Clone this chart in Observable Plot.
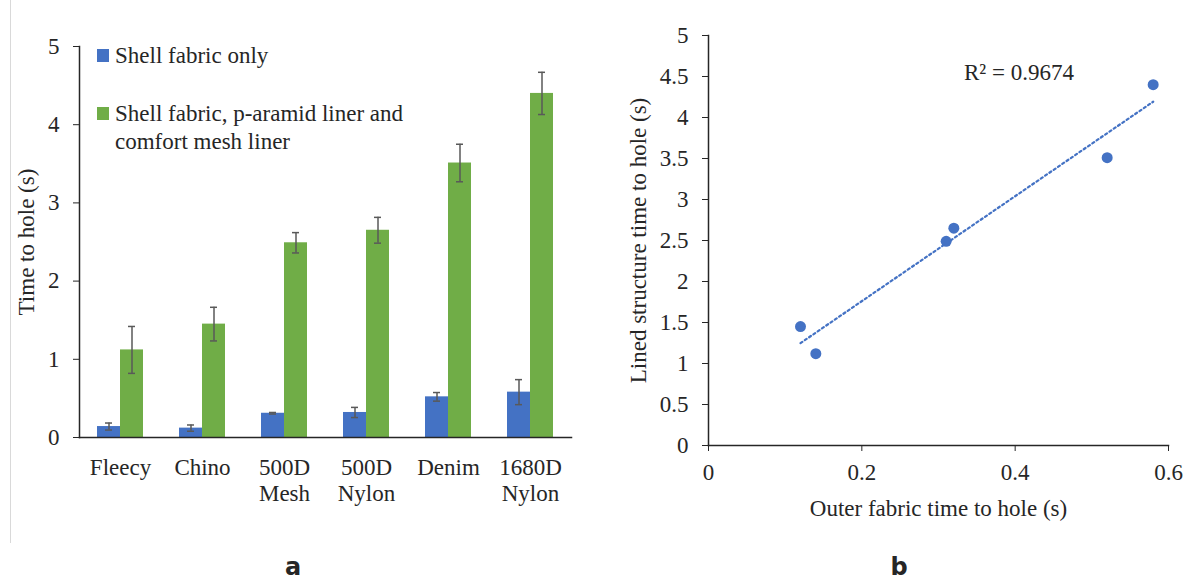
<!DOCTYPE html>
<html>
<head>
<meta charset="utf-8">
<script src="https://cdn.jsdelivr.net/npm/d3@7"></script>
<script src="https://cdn.jsdelivr.net/npm/@observablehq/plot@0.6"></script>
<style>
  html, body { margin: 0; padding: 0; background: #fff; }
  #wrap { position: relative; width: 1189px; height: 581px; overflow: hidden; font-family: 'Liberation Serif', serif; color: #262626; }
  #left, #right { position: absolute; top: 0; }
  #left { left: 0; }
  #right { left: 600px; }
  #border { position: absolute; left: 10px; top: 0; width: 1px; height: 543px; background: #d9d9d9; }
  .leg { position: absolute; font-size: 23px; line-height: 28px; white-space: nowrap; }
  .sw { position: absolute; width: 12px; height: 13px; }
  .panel { position: absolute; font-family: 'DejaVu Sans', sans-serif; font-weight: bold; font-size: 24px; line-height: 24px; transform: translateX(-50%); }
  svg text, svg tspan { font-family: 'Liberation Serif', serif !important; font-variant: normal !important; font-variant-numeric: normal !important; }
</style>
</head>
<body>
<div id="wrap">
  <div id="border"></div>
  <div id="left"></div>
  <div id="right"></div>
  <div id="legend"></div>
  <div class="panel" style="left:293px; top:555px;">a</div>
  <div class="panel" style="left:899px; top:555px;">b</div>
</div>
<script>
// ---------- data ----------
const categories = ["Fleecy", "Chino", "500D Mesh", "500D Nylon", "Denim", "1680D Nylon"];
const tickLabels = ["Fleecy", "Chino", "500D\nMesh", "500D\nNylon", "Denim", "1680D\nNylon"];
const seriesNames = ["Shell fabric only", "Shell fabric, p-aramid liner and\ncomfort mesh liner"];
const shellValues = [0.14, 0.12, 0.31, 0.32, 0.52, 0.58];
const shellErrors = [0.045, 0.04, 0.01, 0.065, 0.055, 0.16];
const linedValues = [1.12, 1.45, 2.49, 2.65, 3.51, 4.40];
const linedErrors = [0.30, 0.215, 0.13, 0.165, 0.24, 0.27];
const yTicksA = [0, 1, 2, 3, 4, 5];
const xTicksB = [0, 0.2, 0.4, 0.6];
const yTicksB = [0, 0.5, 1, 1.5, 2, 2.5, 3, 3.5, 4, 4.5, 5];
const r2Label = ["R\u00B2 = 0.9674"];

const colors = ["#4472C4", "#70AD47"];
const ink = "#262626";
const errInk = "#595959";
const serif = "'Liberation Serif', serif";

const rows = [];
categories.forEach((c, i) => {
  rows.push({category: c, series: seriesNames[0], value: shellValues[i], err: shellErrors[i]});
  rows.push({category: c, series: seriesNames[1], value: linedValues[i], err: linedErrors[i]});
});
const scatter = categories.map((c, i) => ({category: c, x: shellValues[i], y: linedValues[i]}));

const baseStyle = {fontFamily: serif, fontSize: "23px", color: ink, background: "transparent", overflow: "visible"};
const axisText = {fontFamily: serif, fontVariant: "normal"};

// ---------- chart a ----------
const chartA = Plot.plot({
  width: 600,
  height: 540,
  marginLeft: 78,
  marginRight: 28,
  marginTop: 46,
  marginBottom: 103,
  style: baseStyle,
  fx: {domain: categories, padding: 0},
  x: {domain: seriesNames, paddingInner: 0, paddingOuter: 0.765, axis: null},
  y: {domain: [0, 5]},
  color: {domain: seriesNames, range: colors},
  marks: [
    Plot.barY(rows, {fx: "category", x: "series", y: "value", fill: "series"}),
    Plot.ruleX(rows, {fx: "category", x: "series", y1: d => d.value - d.err, y2: d => d.value + d.err, stroke: errInk, strokeWidth: 1.5}),
    Plot.tickY(rows, {fx: "category", x: "series", y: d => d.value - d.err, stroke: errInk, strokeWidth: 1.5, insetLeft: 8, insetRight: 8}),
    Plot.tickY(rows, {fx: "category", x: "series", y: d => d.value + d.err, stroke: errInk, strokeWidth: 1.5, insetLeft: 8, insetRight: 8}),
    Plot.frame({anchor: "left", facet: "super", stroke: ink, strokeWidth: 1.5}),
    Plot.frame({anchor: "bottom", facet: "super", stroke: ink, strokeWidth: 1.5}),
    Plot.axisY({...axisText, ticks: yTicksA, tickFormat: d => String(d), tickSize: 6, tickPadding: 14, label: "Time to hole (s)", labelAnchor: "center", labelOffset: 62, labelArrow: "none"}),
    Plot.axisFx({...axisText, anchor: "bottom", tickSize: 0, tickPadding: 19, label: null, lineHeight: 1.13, tickFormat: d => tickLabels[categories.indexOf(d)]})
  ]
});
document.getElementById("left").appendChild(chartA);

// ---------- chart b ----------
const chartB = Plot.plot({
  width: 589,
  height: 540,
  marginLeft: 108,
  marginRight: 21,
  marginTop: 35,
  marginBottom: 95,
  style: baseStyle,
  x: {domain: [0, 0.6]},
  y: {domain: [0, 5]},
  marks: [
    Plot.frame({anchor: "left", stroke: ink, strokeWidth: 1.5}),
    Plot.frame({anchor: "bottom", stroke: ink, strokeWidth: 1.5}),
    Plot.axisY({...axisText, ticks: yTicksB, tickFormat: d => String(d), tickSize: 6, tickPadding: 14, label: "Lined structure time to hole (s)", labelAnchor: "center", labelOffset: 79, labelArrow: "none"}),
    Plot.axisX({...axisText, ticks: xTicksB, tickFormat: d => String(d), tickSize: 6, tickPadding: 12, label: "Outer fabric time to hole (s)", labelAnchor: "center", labelOffset: 70, labelArrow: "none"}),
    Plot.linearRegressionY(scatter, {x: "x", y: "y", stroke: colors[0], strokeWidth: 2.2, strokeDasharray: "2.2 3", ci: 0}),
    Plot.dot(scatter, {x: "x", y: "y", r: 5.5, fill: colors[0]}),
    Plot.text(r2Label, {x: 0.405, y: 4.55, text: d => d, textAnchor: "middle", fill: ink, fontFamily: serif})
  ]
});
document.getElementById("right").appendChild(chartB);

// ---------- legend (chart a) ----------
const legend = document.getElementById("legend");
const legendTops = [41.6, 99.6];
seriesNames.forEach((name, i) => {
  const sw = document.createElement("div");
  sw.className = "sw";
  sw.style.left = "97px";
  sw.style.top = (legendTops[i] + 7.5) + "px";
  sw.style.background = colors[i];
  legend.appendChild(sw);
  const t = document.createElement("div");
  t.className = "leg";
  t.style.left = "115px";
  t.style.top = legendTops[i] + "px";
  t.innerHTML = name.split("\n").join("<br>");
  legend.appendChild(t);
});
</script>
</body>
</html>
